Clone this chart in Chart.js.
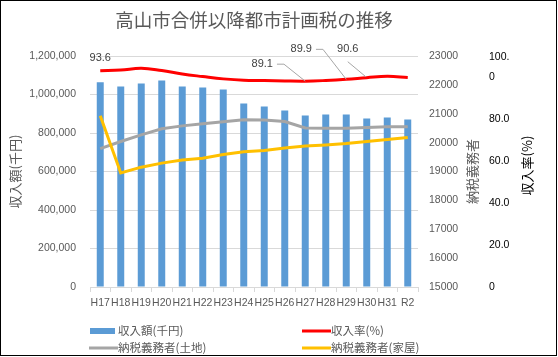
<!DOCTYPE html>
<html><head><meta charset="utf-8">
<script src="https://cdn.jsdelivr.net/npm/chart.js@4"></script>
<style>html,body{margin:0;padding:0;background:#fff;}canvas{display:block;}</style>
</head><body>
<canvas id="c" width="558" height="357"></canvas>
<script>
const chartTitle = '高山市合併以降都市計画税の推移';
const categories = ['H17','H18','H19','H20','H21','H22','H23','H24','H25','H26','H27','H28','H29','H30','H31','R2'];
const revenue = [1063000,1042000,1057000,1073000,1042000,1037000,1026000,953000,938000,917000,891000,896000,896000,875000,881000,870000];
const collectionRate = [93.6,93.9,94.7,93.7,92.2,91.1,90.1,89.5,89.4,89.2,89.1,89.4,89.9,90.6,91.2,90.7];
const landTaxpayers = [19790,20040,20270,20480,20580,20650,20720,20790,20780,20730,20510,20500,20500,20520,20550,20550];
const houseTaxpayers = [20930,18950,19150,19290,19400,19460,19590,19680,19730,19810,19880,19920,19970,20040,20110,20180];
const revenueTicks = [0,200000,400000,600000,800000,1000000,1200000];
const taxpayerTicks = [15000,16000,17000,18000,19000,20000,21000,22000,23000];
const rateTicks = [0,20,40,60,80,100];
const rateTickLabels = ['0','20.0','40.0','60.0','80.0',['100.','0','']];
const seriesNames = ['収入額(千円)','収入率(%)','納税義務者(土地)','納税義務者(家屋)'];
const axisTitles = ['収入額(千円)','納税義務者','収入率(%)'];
const labelledRateIndexes = [0,10,12,13];

const COLORS = {bar:'#5B9BD5', rate:'#FF0000', land:'#A5A5A5', house:'#FFC000', text:'#595959', grid:'#D9D9D9'};
const FONT = "'Liberation Sans','Noto Sans CJK JP',sans-serif";
const CJK = "'Noto Sans CJK JP','Liberation Sans',sans-serif";
Chart.defaults.font.family = FONT;
Chart.defaults.color = COLORS.text;

// label placement relative to its point (style, not data)
const labelPlacement = {
  0:  {dx:0,   dy:-13, leader:'none'},
  10: {dx:-43, dy:-17, leader:'side'},
  12: {dx:-45, dy:-30, leader:'side'},
  13: {dx:-19, dy:-29, leader:'below'}
};

const rateLabels = {
  id:'rateLabels',
  afterDatasetsDraw(chart){
    const ctx = chart.ctx;
    const meta = chart.getDatasetMeta(1);
    ctx.save();
    ctx.font = "11px 'Liberation Sans'";
    ctx.textAlign = 'center';
    ctx.textBaseline = 'middle';
    labelledRateIndexes.forEach(i => {
      const pt = meta.data[i];
      const p = labelPlacement[i];
      const tx = pt.x + p.dx, ty = pt.y + p.dy;
      const txt = collectionRate[i].toFixed(1);
      const w = ctx.measureText(txt).width;
      ctx.strokeStyle = '#A6A6A6';
      ctx.lineWidth = 1;
      if (p.leader === 'side') {
        ctx.beginPath();
        ctx.moveTo(tx + w/2 + 4, ty);
        ctx.lineTo(tx + w/2 + 11, ty);
        ctx.lineTo(pt.x, pt.y);
        ctx.stroke();
      } else if (p.leader === 'below') {
        ctx.beginPath();
        ctx.moveTo(tx, ty + 13);
        ctx.lineTo(pt.x - 1, pt.y - 1);
        ctx.stroke();
      }
      ctx.fillStyle = '#404040';
      ctx.fillText(txt, tx, ty);
    });
    ctx.restore();
  }
};

function vText(ctx, txt, x, y, color){
  ctx.save();
  ctx.translate(x, y);
  ctx.rotate(-Math.PI/2);
  ctx.fillStyle = color;
  ctx.textAlign = 'center';
  ctx.textBaseline = 'middle';
  ctx.fillText(txt, 0, 0);
  ctx.restore();
}

const decor = {
  id:'decor',
  afterDraw(chart){
    const ctx = chart.ctx;
    const ca = chart.chartArea;
    const midY = (ca.top + ca.bottom)/2;
    ctx.save();
    ctx.font = "13px " + CJK;
    vText(ctx, axisTitles[0], chart.scales.y.left + 15, midY, COLORS.text);
    vText(ctx, axisTitles[1], chart.scales.y1.left + 54, midY, COLORS.text);
    vText(ctx, axisTitles[2], chart.scales.y2.left + 38, midY - 6, '#000');
    // legend
    const ds = chart.data.datasets;
    const cols = [ca.left, 303];
    const rows = [331, 348];
    ctx.font = "11.5px " + CJK;
    ctx.textBaseline = 'middle';
    ctx.textAlign = 'left';
    ds.forEach((d, k) => {
      const x = cols[k % 2], y = rows[Math.floor(k/2)];
      ctx.fillStyle = d.type === 'bar' ? d.backgroundColor : d.borderColor;
      if (d.type === 'bar') ctx.fillRect(x, y - 3, 25, 6);
      else ctx.fillRect(x - 1, y - 1.5, 29, 3);
      ctx.fillStyle = COLORS.text;
      ctx.fillText(d.label, x + 28, y);
    });
    // frame
    ctx.strokeStyle = '#000';
    ctx.lineWidth = 1;
    ctx.strokeRect(0.5, 0.5, 556, 355);
    ctx.restore();
  }
};

new Chart(document.getElementById('c'), {
  data: {
    labels: categories,
    datasets: [
      {type:'bar', label:seriesNames[0], data:revenue, backgroundColor:COLORS.bar, yAxisID:'y', order:10,
       barPercentage:0.34, categoryPercentage:1},
      {type:'line', label:seriesNames[1], data:collectionRate, borderColor:COLORS.rate, backgroundColor:COLORS.rate,
       yAxisID:'yRate', borderWidth:3, pointRadius:0, tension:0.4, order:1},
      {type:'line', label:seriesNames[2], data:landTaxpayers, borderColor:COLORS.land, backgroundColor:COLORS.land,
       yAxisID:'y1', borderWidth:3, pointRadius:0, tension:0, order:3},
      {type:'line', label:seriesNames[3], data:houseTaxpayers, borderColor:COLORS.house, backgroundColor:COLORS.house,
       yAxisID:'y1', borderWidth:3, pointRadius:0, tension:0, order:2}
    ]
  },
  options: {
    responsive:false,
    animation:false,
    devicePixelRatio:1,
    layout:{padding:{left:0,right:0,top:0,bottom:47}},
    plugins:{
      legend:{display:false},
      tooltip:{enabled:false},
      title:{display:true, text:chartTitle, fullSize:false, color:COLORS.text,
        font:{family:CJK, size:18.5, weight:'normal', lineHeight:1.2},
        padding:{top:9, bottom:24.8}}
    },
    scales:{
      x:{
        grid:{display:true, drawOnChartArea:false, drawTicks:true, tickLength:5, color:COLORS.grid, offset:true},
        border:{display:true, color:COLORS.grid},
        ticks:{autoSkip:false, maxRotation:0, minRotation:0, padding:5, color:COLORS.text, font:{size:10.5}},
        afterFit(s){ s.height = 23; }
      },
      y:{
        position:'left', min:0, max:1200000,
        grid:{color:COLORS.grid, drawTicks:false},
        border:{display:false},
        afterBuildTicks(s){ s.ticks = revenueTicks.map(v => ({value:v})); },
        ticks:{autoSkip:false, padding:14, color:COLORS.text, font:{size:10.5},
          callback:(v) => Number(v).toLocaleString('en-US')},
        afterFit(s){ s.width = 90; }
      },
      y1:{
        position:'right', min:15000, max:23000, weight:0,
        grid:{display:false, drawTicks:false},
        border:{display:false},
        afterBuildTicks(s){ s.ticks = taxpayerTicks.map(v => ({value:v})); },
        ticks:{autoSkip:false, padding:11, color:COLORS.text, font:{size:10.5}, callback:(v) => String(v)},
        afterFit(s){ s.width = 71; }
      },
      y2:{
        position:'right', min:0, max:110, weight:1,
        grid:{display:false, drawTicks:false},
        border:{display:false},
        afterBuildTicks(s){ s.ticks = rateTicks.map(v => ({value:v})); },
        ticks:{autoSkip:false, padding:0, color:'#000', font:{size:10.5, lineHeight:1.9},
          callback:(v, i) => rateTickLabels[i]},
        afterFit(s){ s.width = 69; }
      },
      yRate:{display:false, min:0, max:100}
    }
  },
  plugins:[rateLabels, decor]
});
</script>
</body></html>
